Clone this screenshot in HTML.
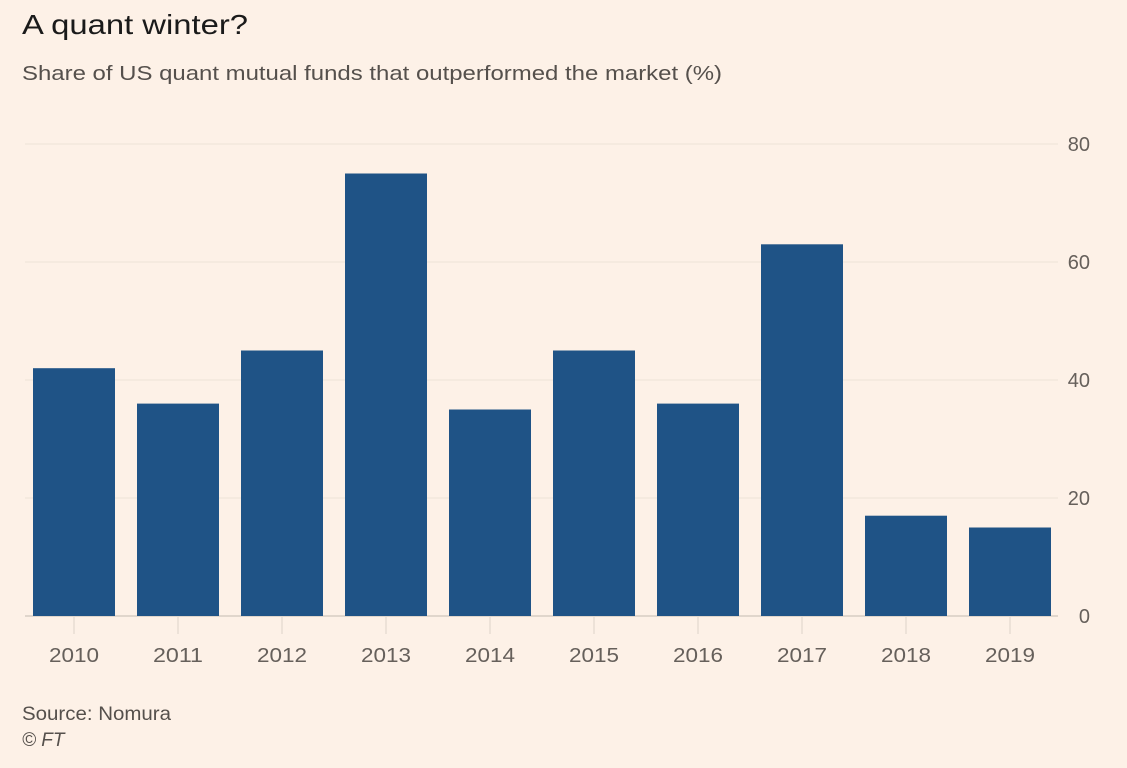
<!DOCTYPE html>
<html><head><meta charset="utf-8"><style>
body{margin:0;background:#fdf1e7;width:1127px;height:763px;overflow:hidden;font-family:"Liberation Sans",sans-serif;}
</style></head><body>
<svg width="1127" height="763">
<rect width="1127" height="763" fill="#fdf1e7"/>
<text x="22" y="34" font-size="28" fill="#1a1a1a" textLength="226" lengthAdjust="spacingAndGlyphs">A quant winter?</text>
<text x="22" y="80" font-size="20" fill="#55504c" textLength="700" lengthAdjust="spacingAndGlyphs">Share of US quant mutual funds that outperformed the market (%)</text>
<g id="grid"></g><g id="bars"></g><g id="xaxis"></g>
<text x="22" y="720" font-size="19" fill="#55504c" textLength="149" lengthAdjust="spacingAndGlyphs">Source: Nomura</text>
<text x="22" y="746" font-size="19" font-style="italic" fill="#55504c">© FT</text>
</svg>
<script>
const categories=["2010","2011","2012","2013","2014","2015","2016","2017","2018","2019"];
const values=[42,36,45,75,35,45,36,63,17,15];
const yTicks=[0,20,40,60,80];
const ns="http://www.w3.org/2000/svg";
const y=v=>616-v*5.9;
const x=i=>33+i*104;
const bw=82;
function mk(t,a,p){const e=document.createElementNS(ns,t);for(const k in a)e.setAttribute(k,a[k]);p.appendChild(e);return e;}
const g=document.getElementById('grid'),b=document.getElementById('bars'),xa=document.getElementById('xaxis');
yTicks.forEach(t=>{
 const l=mk('line',{x1:25,x2:1058,y1:y(t),y2:y(t),stroke:t===0?'#e0d6cc':'#ede2d7','stroke-width':t===0?2:1},g);
 
 
 const tx=mk('text',{x:1090,y:y(t)+7,'font-size':20,fill:'#66605b','text-anchor':'end'},g);
 tx.textContent=t;
 
 
});
categories.forEach((c,i)=>{
 const r=mk('rect',{x:x(i),y:y(values[i]),width:bw,height:y(0)-y(values[i]),fill:'#1f5386'},b);
 
 
 const tk=mk('line',{x1:x(i)+bw/2,x2:x(i)+bw/2,y1:617,y2:634,stroke:'#ddd3c9','stroke-width':1},xa);
 
 
 const t=mk('text',{x:x(i)+bw/2,y:662,'font-size':20,fill:'#66605b','text-anchor':'middle',textLength:50,lengthAdjust:'spacingAndGlyphs'},xa);
 t.textContent=c;
 
 
});
</script>
</body></html>
